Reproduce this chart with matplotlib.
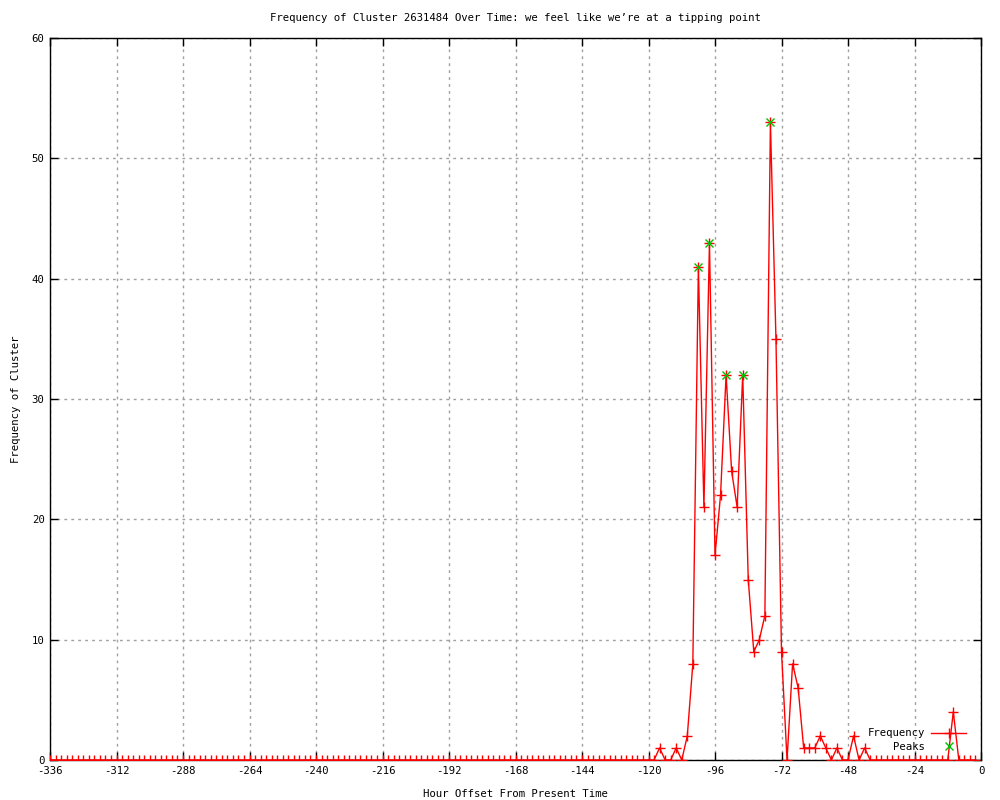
import matplotlib
matplotlib.use("Agg")
import matplotlib.pyplot as plt
import numpy as np

plt.rcParams["axes.unicode_minus"] = False

# hour offsets, sampled every 2 hours from -336 to -2
hours = list(range(-336, 0, 2))

# frequency per hour slot (zero until -118)
freq_zero_lead = [0] * 108  # -336 .. -122
freq_active = [
    0, 0, 1, 0, 0, 1, 0, 2, 8, 41,      # -120 .. -102
    21, 43, 17, 22, 32, 24, 21, 32, 15, 9,  # -100 .. -82
    10, 12, 53, 35, 9, 0, 8, 6, 1, 1,   # -80 .. -62
    1, 2, 1, 0, 1, 0, 0, 2, 0, 1,       # -60 .. -42
    0, 0, 0, 0, 0, 0, 0, 0, 0, 0,       # -40 .. -22
    0, 0, 0, 0, 0, 4, 0, 0, 0, 0,       # -20 .. -2
]
freq = freq_zero_lead + freq_active

peak_hours = [-102, -98, -92, -86, -76]
peak_values = [41, 43, 32, 32, 53]

x_ticks = list(range(-336, 1, 24))
y_ticks = list(range(0, 61, 10))

FONT = "DejaVu Sans Mono"
FS = 7.7

fig = plt.figure(figsize=(10, 8), dpi=100)
ax = fig.add_axes([0.050, 0.050, 0.931, 0.9025])

ax.plot(hours, freq, color="#ff0000", linewidth=1.0, marker="+",
        markersize=7, markeredgewidth=1.0, label="Frequency", zorder=3)
ax.plot(peak_hours, peak_values, linestyle="none", color="#00c000",
        marker="x", markersize=6, markeredgewidth=1.0, label="Peaks", zorder=4)

ax.set_xlim(-336, 0)
ax.set_ylim(0, 60)
ax.set_xticks(x_ticks)
ax.set_yticks(y_ticks)
ax.tick_params(direction="in", length=6, width=1, top=True, right=True,
               labelsize=FS, pad=4)
for lab in ax.get_xticklabels() + ax.get_yticklabels():
    lab.set_family(FONT)
ax.grid(True, color="#a0a0a0", linestyle=(0, (2, 3)), linewidth=1)
for spine in ax.spines.values():
    spine.set_linewidth(1)
    spine.set_color("black")

ax.set_title("Frequency of Cluster 2631484 Over Time: we feel like we\u2019re at a tipping point",
             fontsize=FS, family=FONT, pad=12)
ax.set_xlabel("Hour Offset From Present Time", fontsize=FS, family=FONT, labelpad=10)
ax.set_ylabel("Frequency of Cluster", fontsize=FS, family=FONT, labelpad=8)

leg = ax.legend(loc="lower right", bbox_to_anchor=(0.995, -0.004), frameon=False,
                markerfirst=False, numpoints=1, handlelength=3.2,
                prop={"family": FONT, "size": FS}, labelspacing=0.35,
                borderaxespad=0.6, handletextpad=0.6)

fig.savefig("out.png", dpi=100)
